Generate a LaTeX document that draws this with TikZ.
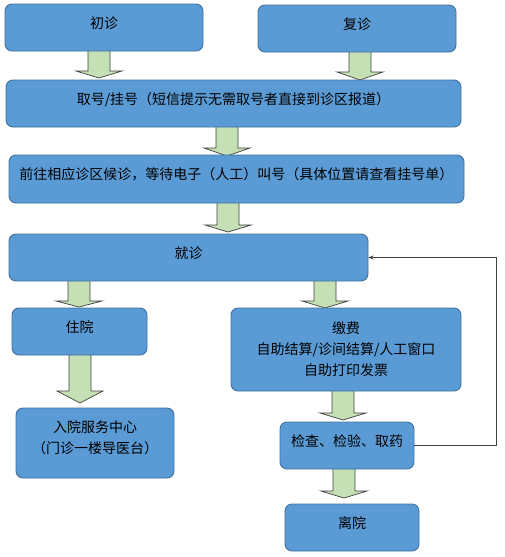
\documentclass[tikz,border=0pt]{standalone}
\usepackage{fontspec}
\setmainfont{Noto Sans CJK SC}
\usetikzlibrary{arrows.meta}
\definecolor{boxfill}{HTML}{5B9BD5}
\definecolor{boxline}{HTML}{41719C}
\definecolor{arrfill}{HTML}{C5E0B4}
\definecolor{arrline}{HTML}{404040}
\newcommand\bt[2]{\raisebox{#1}[\height][\depth]{\begin{tabular}{@{}c@{}}#2\end{tabular}}}
\newcommand\blockarrow[4]{%
  \draw[barrow] (#1-11,#2) -- (#1+11,#2) -- (#1+11,#3) -- (#1+23,#3) -- (#1,#4) -- (#1-23,#3) -- (#1-11,#3) -- cycle;}
\tikzset{
  box/.style={draw=boxline, fill=boxfill, line width=0.9pt, rounded corners=7pt, inner sep=0pt,
    font=\fontsize{14pt}{21pt}\selectfont, text=black},
  barrow/.style={draw=arrline, fill=arrfill, line width=0.7pt, line join=miter},
  feedback/.style={draw=arrline, line width=0.9pt, -{Stealth[length=5pt,width=4pt]}}
}
\begin{document}
\begin{tikzpicture}[x=1pt,y=-1pt]
\useasboundingbox (0,0) rectangle (504,557);
% block arrows (drawn under the boxes)
\blockarrow{99}{49}{71}{78}
\blockarrow{360}{51}{72}{80}
\blockarrow{227}{126}{148}{156}
\blockarrow{228}{202}{225}{232}
\blockarrow{79}{280}{301}{307}
\blockarrow{325}{280}{301}{308}
\blockarrow{80}{354}{391}{403}
\blockarrow{343}{390}{413}{420}
\blockarrow{344}{468}{491}{498}
% boxes
\node[box, minimum width=198pt, minimum height=47pt] (b1) at (104,27.5) {\bt{3.5pt}{初诊}};
\node[box, minimum width=198pt, minimum height=47pt] (b2) at (357,28.5) {\bt{3.5pt}{复诊}};
\node[box, minimum width=455pt, minimum height=47pt] (b3) at (233.5,103.5) {\bt{3.5pt}{取号/挂号（短信提示无需取号者直接到诊区报道）}};
\node[box, minimum width=455pt, minimum height=48pt] (b4) at (236.5,179) {\bt{3.5pt}{前往相应诊区候诊，等待电子（人工）叫号（具体位置请查看挂号单）}};
\node[box, minimum width=359pt, minimum height=47pt] (b5) at (188.5,257.5) {\bt{3.5pt}{就诊}};
\node[box, minimum width=135pt, minimum height=47pt] (b6) at (79.5,331.5) {\bt{3.5pt}{住院}};
\node[box, minimum width=230pt, minimum height=83pt] (b7) at (346,349.5) {\bt{-1pt}{缴费\\自助结算/诊间结算/人工窗口\\自助打印发票}};
\node[box, minimum width=158pt, minimum height=70pt] (b8) at (95,443) {\bt{4pt}{入院服务中心\\（门诊一楼导医台）}};
\node[box, minimum width=134pt, minimum height=47pt] (b9) at (347,445.5) {\bt{3.5pt}{检查、检验、取药}};
\node[box, minimum width=134pt, minimum height=47pt] (b10) at (352,527.5) {\bt{3.5pt}{离院}};
% feedback connector
\coordinate (r1) at (496,445.5);
\coordinate (r2) at (496,257.5);
\draw[feedback] (b9.east) -- (r1) -- (r2) -- (b5.east);
\end{tikzpicture}
\end{document}
